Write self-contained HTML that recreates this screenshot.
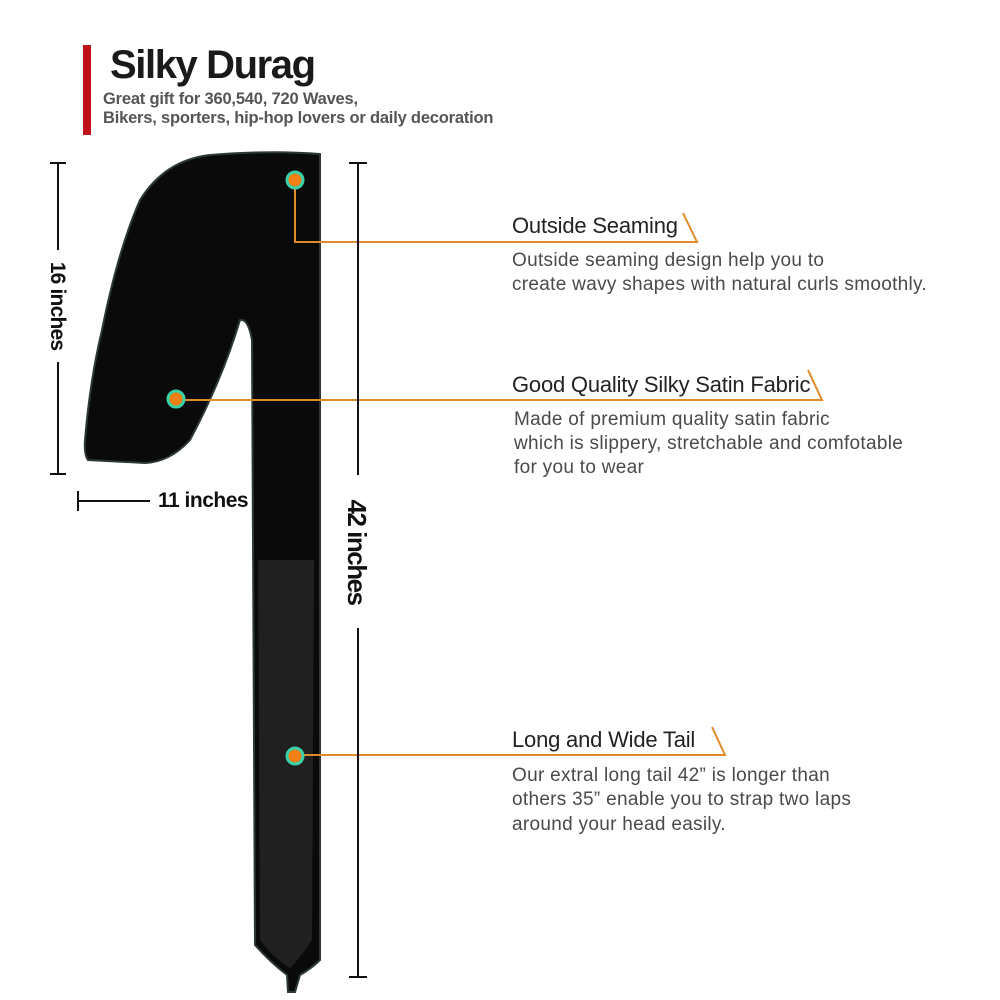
<!DOCTYPE html>
<html><head><meta charset="utf-8"><style>
html,body{margin:0;padding:0;background:#fff;}
svg{display:block;}
text{font-family:"Liberation Sans",sans-serif;}
</style></head><body>
<svg width="1000" height="1000" viewBox="0 0 1000 1000" xmlns="http://www.w3.org/2000/svg">
<rect width="1000" height="1000" fill="#fff"/>
<rect x="83" y="45" width="8" height="90" fill="#c0121b"/>
<text x="110" y="78" font-size="40" font-weight="bold" fill="#1a1a1a" letter-spacing="-1.4">Silky Durag</text>
<text x="103" y="104" font-size="16.5" font-weight="bold" fill="#555" letter-spacing="-0.2">Great gift for 360,540, 720 Waves,</text>
<text x="103" y="123" font-size="16.5" font-weight="bold" fill="#555" letter-spacing="-0.2">Bikers, sporters, hip-hop lovers or daily decoration</text>

<!-- durag -->
<path d="M320 154 L320 960 Q312 968 300 975 L295 992 L288 992 L287 975 Q270 962 255 945 L252 340 Q248 318 240 320 Q222 380 190 440 Q170 462 145 463 L88 460 Q84 455 85 440 Q90 380 102 330 Q118 250 140 200 Q165 160 210 155 Q270 150 320 154 Z" fill="#0a0a0a" stroke="#2d3a34" stroke-width="2"/>
<path d="M258 560 L314 560 L312 940 Q300 958 290 968 Q270 955 260 940 Z" fill="#2a2a2a" opacity="0.7"/>

<!-- orange connectors -->
<g stroke="#e08a2a" stroke-width="2" fill="none">
<polyline points="295,180 295,242 697,242 683,213"/>
<polyline points="176,400 822,400 808,370"/>
<polyline points="295,755 725,755 712,727"/>
</g>
<g fill="#f07f14" stroke="#3ad0a8" stroke-width="3">
<circle cx="295" cy="180" r="8"/>
<circle cx="176" cy="399" r="8"/>
<circle cx="295" cy="756" r="8"/>
</g>

<!-- dimensions -->
<g stroke="#111" stroke-width="2">
<line x1="58" y1="163" x2="58" y2="250"/>
<line x1="58" y1="362" x2="58" y2="474"/>
<line x1="50" y1="163" x2="66" y2="163"/>
<line x1="50" y1="474" x2="66" y2="474"/>
<line x1="78" y1="491" x2="78" y2="511"/>
<line x1="78" y1="501" x2="150" y2="501"/>
<line x1="358" y1="163" x2="358" y2="475"/>
<line x1="358" y1="628" x2="358" y2="977"/>
<line x1="349" y1="163" x2="367" y2="163"/>
<line x1="349" y1="977" x2="367" y2="977"/>
</g>
<text transform="translate(51,306) rotate(90)" font-size="21" font-weight="bold" fill="#111" text-anchor="middle" letter-spacing="-0.8">16 inches</text>
<text x="158" y="507" font-size="21" font-weight="bold" fill="#111" letter-spacing="-0.5">11 inches</text>
<text transform="translate(348,552) rotate(90)" font-size="26" font-weight="bold" fill="#111" text-anchor="middle" letter-spacing="-1.5">42 inches</text>

<!-- callouts -->
<g font-size="22" fill="#222" letter-spacing="-0.2">
<text x="512" y="233">Outside Seaming</text>
<text x="512" y="392">Good Quality Silky Satin Fabric</text>
<text x="512" y="747">Long and Wide Tail</text>
</g>
<g font-size="19" fill="#4a4a4a" letter-spacing="0.3">
<text x="512" y="266">Outside seaming design help you to</text>
<text x="512" y="290">create wavy shapes with natural curls smoothly.</text>
<text x="514" y="425">Made of premium quality  satin fabric</text>
<text x="514" y="449">which is slippery, stretchable and comfotable</text>
<text x="514" y="473">for you to wear</text>
<text x="512" y="781">Our extral long tail 42” is longer than</text>
<text x="512" y="805">others 35” enable you to strap two laps</text>
<text x="512" y="830">around your head easily.</text>
</g>
</svg>
</body></html>
